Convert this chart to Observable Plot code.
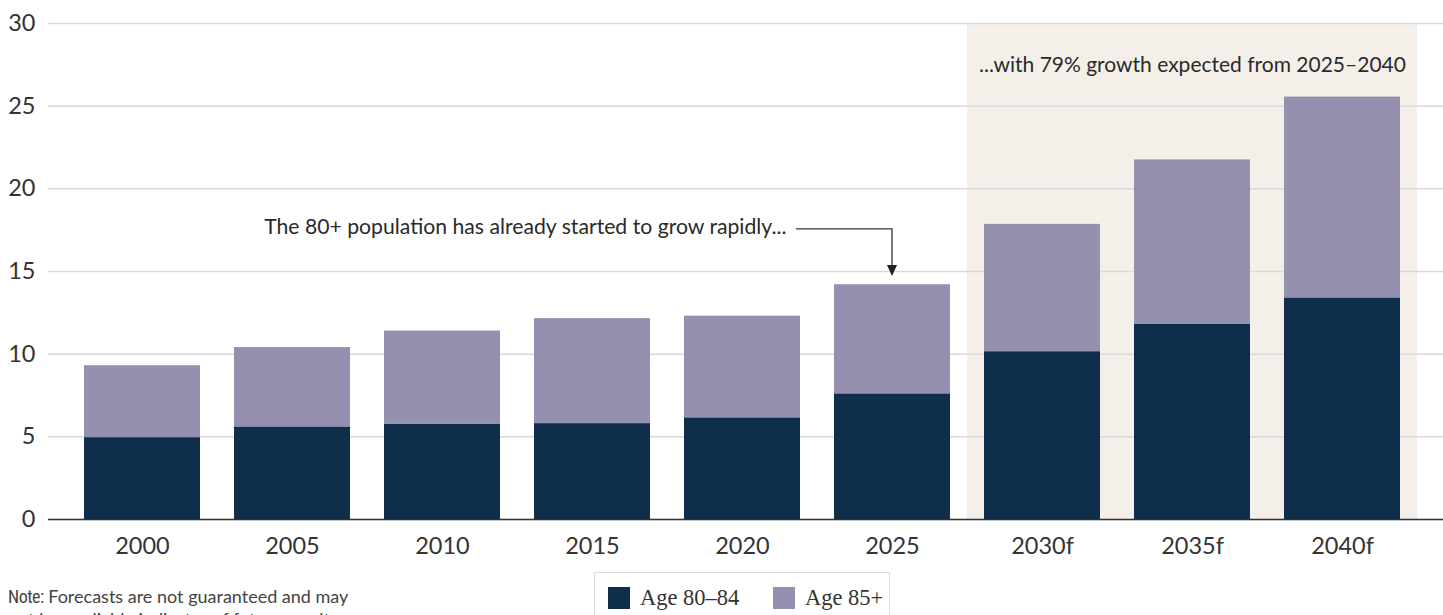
<!DOCTYPE html>
<html>
<head>
<meta charset="utf-8">
<script src="https://cdn.jsdelivr.net/npm/d3@7"></script>
<script src="https://cdn.jsdelivr.net/npm/@observablehq/plot@0.6"></script>
<style>
  html, body { margin: 0; padding: 0; background: #fff; }
  body { width: 1443px; height: 615px; overflow: hidden; position: relative; font-family: Lato, "Open Sans", sans-serif; }
  #chart { position: absolute; left: 0; top: 0; }
  #note { position: absolute; left: 8px; top: 585px; font-size: 18px; line-height: 22px; color: #444; font-family: Lato, sans-serif; }
  #note b { font-weight: 400; font-family: "Liberation Sans Narrow", "Roboto", sans-serif; font-stretch: condensed; letter-spacing: -0.5px; }
  #legend { position: absolute; left: 594px; top: 572px; width: 296px; height: 50px; border: 1px solid #dcdcdf; box-sizing: border-box; font-family: "Liberation Serif", "DejaVu Serif", serif; font-size: 22.5px; color: #333; }
  .item { position: absolute; top: 12px; display: flex; align-items: center; }
  .sw { width: 22px; height: 22px; margin-right: 10px; }
</style>
</head>
<body>
<div id="chart"></div>
<div id="legend"></div>
<div id="note"><b>Note:</b> Forecasts are not guaranteed and may<br>not be a reliable indicator of future results.</div>
<script>
const years = ["2000","2005","2010","2015","2020","2025","2030f","2035f","2040f"];
const age8084 = [4.95, 5.6, 5.75, 5.8, 6.15, 7.6, 10.15, 11.8, 13.4];
const age85plus = [4.35, 4.8, 5.65, 6.35, 6.15, 6.6, 7.7, 9.95, 12.15];
const seriesNames = ["Age 80–84", "Age 85+"];
const seriesColors = ["#0e2e4b", "#958fb0"];
const yTicks = [0, 5, 10, 15, 20, 25, 30];
const forecastYears = ["2030f", "2035f", "2040f"];
const annotation1 = {text: "The 80+ population has already started to grow rapidly...", year: "2025", y: 17.55, yEnd: 14.7};
const annotation2 = {text: "...with 79% growth expected from 2025–2040", year: "2035f", y: 27.5};

const rows = [];
years.forEach((yr, i) => {
  rows.push({year: yr, series: seriesNames[0], value: age8084[i]});
  rows.push({year: yr, series: seriesNames[1], value: age85plus[i]});
});

const arrowMark = (index, scales, values, dimensions) => {
  const bw = scales.x.bandwidth ? scales.x.bandwidth() : 0;
  const xc = scales.x(annotation1.year) + bw / 2;
  const y0 = scales.y(annotation1.y);
  const y1 = scales.y(annotation1.yEnd);
  const x0 = xc - 96;
  const g = d3.create("svg:g");
  g.append("path")
    .attr("d", `M${x0},${y0}H${xc}V${y1 - 9}`)
    .attr("fill", "none").attr("stroke", "#333").attr("stroke-width", 1.3);
  g.append("path")
    .attr("d", `M${xc - 5},${y1 - 11}L${xc + 5},${y1 - 11}L${xc},${y1}Z`)
    .attr("fill", "#222");
  return g.node();
};

const chart = Plot.plot({
  width: 1443,
  height: 565,
  marginTop: 23,
  marginBottom: 46,
  marginLeft: 48,
  marginRight: 0,
  style: {fontFamily: "Lato, 'Open Sans', sans-serif", fontSize: "23.5px", color: "#333", background: "transparent"},
  x: {domain: years, paddingInner: 0.227, paddingOuter: 0.2635, align: 0.456, label: null, tickSize: 0, tickPadding: 18},
  y: {domain: [0, 30], ticks: yTicks, label: null, tickSize: 0, tickPadding: 13},
  color: {domain: seriesNames, range: seriesColors},
  marks: [
    Plot.barY(forecastYears, {x: d => d, y1: 0, y2: 30, fill: "#f4f0e9", insetLeft: -17.1, insetRight: -17.1}),
    Plot.gridY(yTicks, {stroke: "#d9d9de", strokeOpacity: 1, strokeWidth: 1.5}),
    Plot.barY(rows, {x: "year", y: "value", fill: "series", order: seriesNames}),
    Plot.ruleY([0], {stroke: "#333", strokeWidth: 1.5}),
    Plot.text([annotation1], {x: "year", y: "y", text: "text", textAnchor: "end", dx: -106, dy: -2, fontSize: 21.2, fill: "#2a2a2a"}),
    Plot.text([annotation2], {x: "year", y: "y", text: "text", fontSize: 21, fill: "#2a2a2a"}),
    arrowMark
  ]
});
document.getElementById("chart").appendChild(chart);

const legend = document.getElementById("legend");
const lefts = [13, 178];
seriesNames.forEach((n, i) => {
  const it = document.createElement("div");
  it.className = "item";
  it.style.left = lefts[i] + "px";
  it.innerHTML = `<div class="sw" style="background:${seriesColors[i]}"></div><span>${n}</span>`;
  legend.appendChild(it);
});
</script>
</body>
</html>
